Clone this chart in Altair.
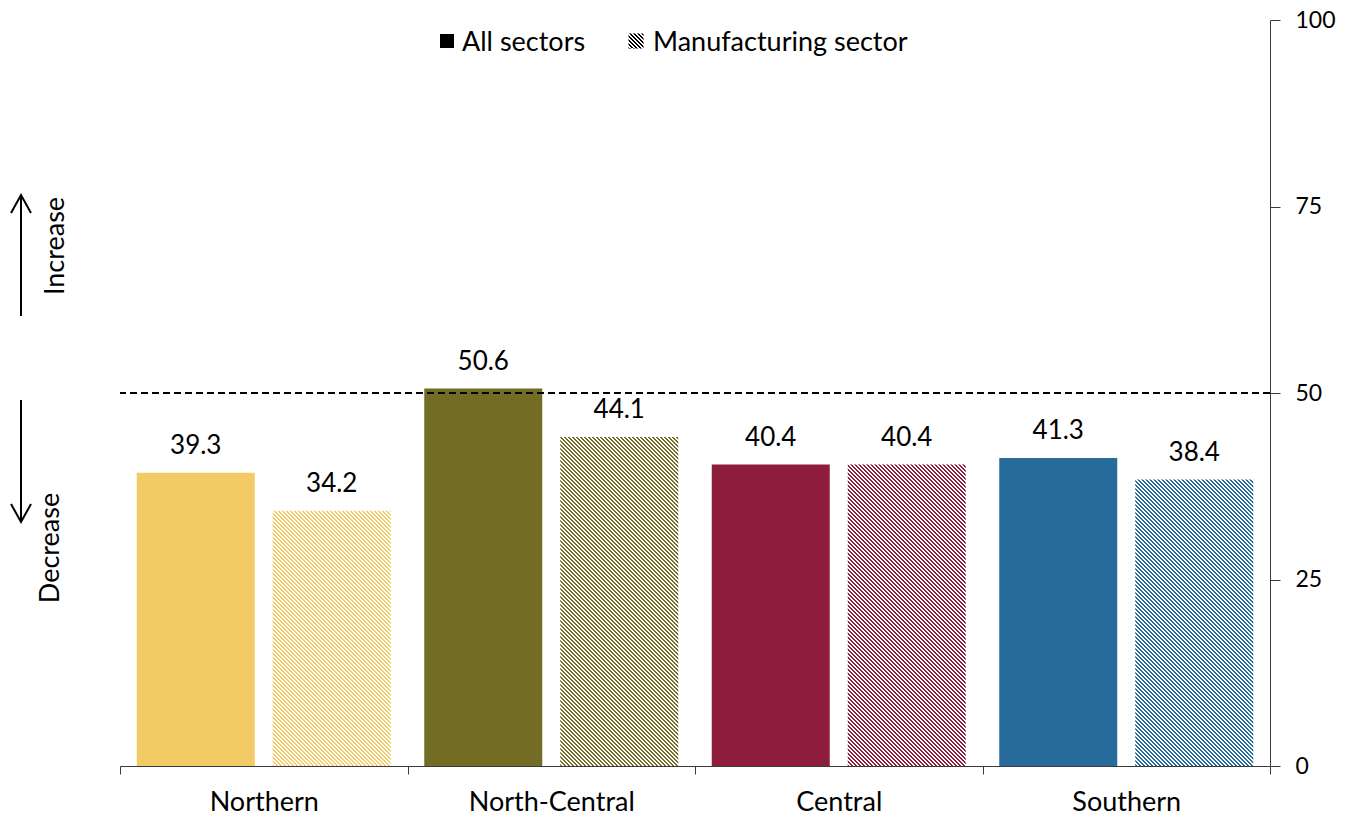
import altair as alt
import pandas as pd
import math

regions = ["Northern", "North-Central", "Central", "Southern"]
all_sectors = [39.3, 50.6, 40.4, 41.3]
manufacturing = [34.2, 44.1, 40.4, 38.4]
colors = ["#F2CA66", "#726C24", "#8E1C3B", "#276B9A"]
sectors = ["All sectors", "Manufacturing sector"]
y_ticks = [0, 25, 50, 75, 100]

FONT = "Lato"
AXIS_COLOR = "#3a3a3a"
W, H = 1150, 746
BAND = W / len(regions)          # 287.5
BAR_W = 118.0
GAP_IN = 18.0
STEP = BAR_W + GAP_IN
P_IN = GAP_IN / STEP
P_OUT = ((BAND - 2 * BAR_W - GAP_IN) / 2) / STEP
PX_PER_UNIT = H / 100.0

rows = []
for r, a, m in zip(regions, all_sectors, manufacturing):
    rows.append({"region": r, "sector": sectors[0], "value": a})
    rows.append({"region": r, "sector": sectors[1], "value": m})
df = pd.DataFrame(rows)


def hatch(color, w, h, hp=4.0):
    """Diagonal (\\) stripes with an exact horizontal period of hp pixels."""
    r = h / w
    t = (1 + r) / (1 + r * r)
    n = int(math.ceil((w + h) / hp))
    s = n * hp / (w + h)
    stops = []
    for k in range(n):
        a = k / n
        b = (k + 0.5) / n
        c = (k + 1) / n
        stops.append(alt.GradientStop(offset=round(a, 6), color=color))
        stops.append(alt.GradientStop(offset=round(b, 6), color=color))
        stops.append(alt.GradientStop(offset=round(b, 6), color="#ffffff"))
        stops.append(alt.GradientStop(offset=round(c, 6), color="#ffffff"))
    return alt.LinearGradient(gradient="linear", stops=stops,
                              x1=0, y1=1, x2=s * t, y2=1 - s * t * r)


base = alt.Chart(df)
x_enc = alt.X("region:N", sort=regions,
              scale=alt.Scale(domain=regions, paddingInner=0, paddingOuter=0),
              axis=alt.Axis(title=None, labelAngle=0, tickBand="extent",
                            labelFont=FONT, labelFontSize=27, labelColor="#000",
                            domainColor=AXIS_COLOR, tickColor=AXIS_COLOR, tickSize=8,
                            labelPadding=15))
xo_enc = alt.XOffset("sector:N",
                     scale=alt.Scale(domain=sectors, paddingInner=P_IN, paddingOuter=P_OUT))
y_enc = alt.Y("value:Q",
              scale=alt.Scale(domain=[0, 100], nice=False),
              axis=alt.Axis(title=None, orient="right", values=y_ticks, grid=False,
                            labelFont=FONT, labelFontSize=23, labelColor="#000",
                            domainColor=AXIS_COLOR, tickColor=AXIS_COLOR, tickSize=10,
                            labelPadding=15))

solid = base.transform_filter(alt.datum.sector == sectors[0]).mark_bar().encode(
    x=x_enc, xOffset=xo_enc, y=y_enc,
    color=alt.Color("region:N", scale=alt.Scale(domain=regions, range=colors), legend=None),
)

layers = [solid]
for r, m, c in zip(regions, manufacturing, colors):
    g = hatch(c, BAR_W, m * PX_PER_UNIT)
    layers.append(
        base.transform_filter((alt.datum.sector == sectors[1]) & (alt.datum.region == r))
        .mark_bar(fill=g, strokeWidth=0)
        .encode(x=x_enc, xOffset=xo_enc, y=y_enc)
    )

labels = base.mark_text(font=FONT, fontSize=26, baseline="middle", dy=-27, color="#000").encode(
    x=x_enc, xOffset=xo_enc, y=y_enc, text=alt.Text("value:Q", format=".1f")
)
layers.append(labels)

ref = alt.Chart(pd.DataFrame({"v": [50]})).mark_rule(
    color="#000", strokeDash=[7, 4], strokeWidth=1.8
).encode(y="v:Q")
layers.append(ref)

# legend (drawn manually: a solid and a hatched swatch)
one = pd.DataFrame({"k": [0]})
leg_sq1 = alt.Chart(one).mark_square(size=196, color="#000", opacity=1).encode(
    x=alt.value(327), y=alt.value(21))
leg_sq2 = alt.Chart(one).mark_square(
    size=225, fill=hatch("#000000", 15, 15, hp=4.0), opacity=1, strokeWidth=0).encode(
    x=alt.value(516), y=alt.value(21))
leg_t1 = alt.Chart(one).mark_text(
    text=sectors[0], font=FONT, fontSize=27, align="left", baseline="middle", color="#000").encode(
    x=alt.value(342), y=alt.value(23))
leg_t2 = alt.Chart(one).mark_text(
    text=sectors[1], font=FONT, fontSize=27, align="left", baseline="middle", color="#000").encode(
    x=alt.value(533), y=alt.value(23))
layers += [leg_sq1, leg_sq2, leg_t1, leg_t2]

# direction arrows
inc_shaft = alt.Chart(one).mark_rule(color="#000", strokeWidth=2).encode(
    x=alt.value(-99), y=alt.value(175), y2=alt.value(296))
dec_shaft = alt.Chart(one).mark_rule(color="#000", strokeWidth=2).encode(
    x=alt.value(-99), y=alt.value(380), y2=alt.value(502))
inc_head = alt.Chart(one).mark_point(
    shape="M-1,0.8L0,-1L1,0.8", size=400, filled=False, color="#000", strokeWidth=2, opacity=1
).encode(x=alt.value(-99), y=alt.value(185))
dec_head = alt.Chart(one).mark_point(
    shape="M-1,-0.8L0,1L1,-0.8", size=400, filled=False, color="#000", strokeWidth=2, opacity=1
).encode(x=alt.value(-99), y=alt.value(492))
inc_t = alt.Chart(one).mark_text(
    text="Increase", font=FONT, fontSize=27, angle=270, align="center", baseline="middle", color="#000"
).encode(x=alt.value(-64), y=alt.value(226))
dec_t = alt.Chart(one).mark_text(
    text="Decrease", font=FONT, fontSize=27, angle=270, align="center", baseline="middle", color="#000"
).encode(x=alt.value(-69), y=alt.value(528))
layers += [inc_shaft, dec_shaft, inc_head, dec_head, inc_t, dec_t]

chart = alt.layer(*layers).properties(
    width=W, height=H,
    autosize=alt.AutoSizeParams(type="none"),
    padding={"left": 112, "top": 12, "right": 71, "bottom": 50},
).configure(font=FONT, background="#ffffff").configure_view(strokeWidth=0, stroke="transparent")

chart.save("out.html", embed_options={"renderer": "svg", "actions": False})
